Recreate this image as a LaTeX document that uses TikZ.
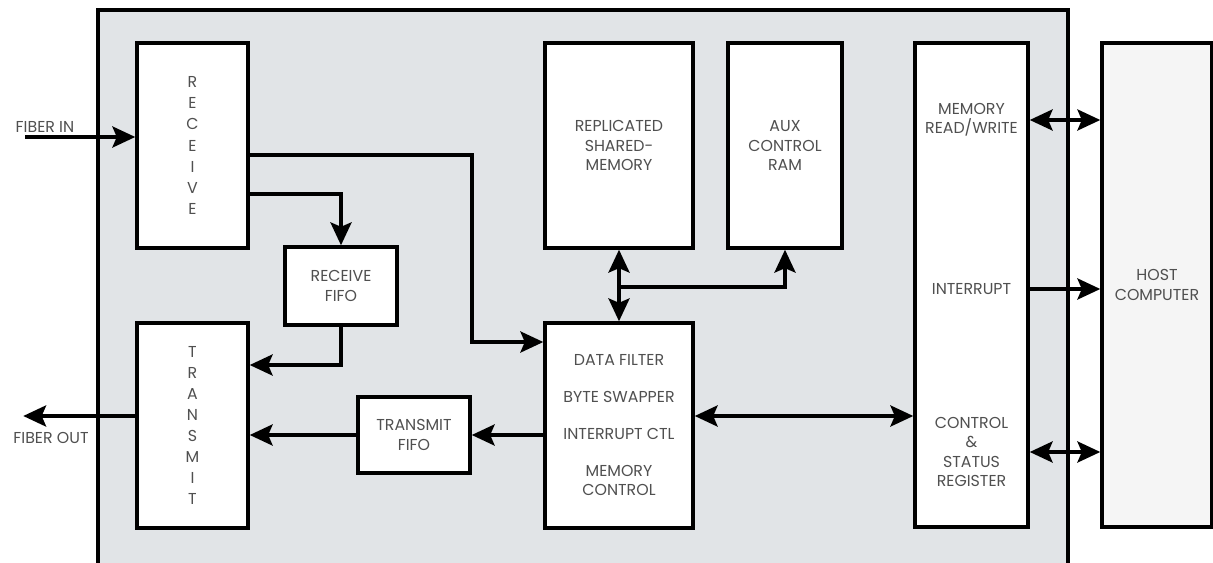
\documentclass[tikz,border=0pt]{standalone}
\usepackage{fontspec}
\setmainfont{Poppins}
\usetikzlibrary{arrows.meta, positioning, calc}
\definecolor{boardgray}{RGB}{225,228,231}
\definecolor{hostgray}{RGB}{245,245,245}
\definecolor{txtgray}{RGB}{80,80,80}

\begin{document}
\begin{tikzpicture}[
    x=0.02cm, y=-0.02cm,
    block/.style={rectangle, draw, line width=2pt, fill=white, inner sep=0pt, minimum width=2.22cm, minimum height=4.1cm, font=\fontsize{9}{11}\selectfont, text=txtgray, align=center},
    tall/.style={block, font=\fontsize{9}{12}\selectfont},
    label/.style={font=\fontsize{9}{11}\selectfont, text=txtgray, align=center},
    arr/.style={-{Stealth[length=13pt, width=12pt, inset=2.5pt]}, line width=2pt},
    dblarr/.style={{Stealth[length=13pt, width=12pt, inset=2.5pt]}-{Stealth[length=13pt, width=12pt, inset=2.5pt]}, line width=2pt}
]
\useasboundingbox (0,0) rectangle (1213,563);

% Board
\fill[boardgray] (98,10) rectangle (1068,600);
\draw[line width=2pt] (98,600) -- (98,10) -- (1068,10) -- (1068,600);

% Fiber side
\node[tall] (receive) at (192.5,145.5) {R\\E\\C\\E\\I\\V\\E};
\node[tall] (transmit) at (192.5,425.5) {T\\R\\A\\N\\S\\M\\I\\T};
\node[block, minimum width=2.24cm, minimum height=1.56cm] (rxfifo) at (341,286) {RECEIVE\\FIFO};
\node[block, minimum width=2.24cm, minimum height=1.52cm] (txfifo) at (414,435) {TRANSMIT\\FIFO};

% Memory
\node[block, minimum width=2.96cm] (shmem) at (619,145.5) {REPLICATED\\SHARED-\\MEMORY};
\node[block, minimum width=2.28cm] (auxram) at (785,145.5) {AUX\\CONTROL\\RAM};
\node[block, minimum width=2.96cm] (filter) at (619,425.5) {DATA FILTER\\[10pt]BYTE SWAPPER\\[10pt]INTERRUPT CTL\\[10pt]MEMORY\\CONTROL};

% Host interface
\node[block, minimum width=2.26cm, minimum height=9.68cm] (hostif) at (971.5,285) {};
\node[label] (mrw) at (971.5,120) {MEMORY\\READ/WRITE};
\node[label] (intr) at (971.5,289) {INTERRUPT};
\node[label] (csr) at (971.5,452) {CONTROL\\\&\\STATUS\\REGISTER};
\node[block, fill=hostgray, minimum width=2.2cm, minimum height=9.68cm] (host) at (1157,285) {HOST\\COMPUTER};

% Labels
\node[label] (fiberin) at (45,127) {FIBER IN};
\node[label] (fiberout) at (51,438) {FIBER OUT};
\coordinate (fin) at (25,137);
\coordinate (junc) at ($(shmem.south)!0.52!(filter.north)$);

% Connections
\draw[arr] (fin) -- (fin -| receive.west);
\draw[arr] ([yshift=0.19cm]transmit.west) -- ++(-112,0);
\draw[arr] ([yshift=-0.19cm]receive.east) -- ++(222,0) |- ([yshift=1.67cm]filter.west);
\draw[arr] ([yshift=-0.97cm]receive.east) -| (rxfifo.north);
\draw[arr] (rxfifo.south) |- ([yshift=1.21cm]transmit.east);
\draw[arr] (txfifo.west) -- (txfifo.west -| transmit.east);
\draw[arr] (filter.west |- txfifo) -- (txfifo.east);
\draw[dblarr] (shmem.south) -- (filter.north);
\draw[arr] (junc) -| (auxram.south);
\draw[dblarr] ([yshift=0.19cm]filter.east) -- ([yshift=0.19cm]filter.east -| hostif.west);
\draw[dblarr] (hostif.east |- mrw) -- (host.west |- mrw);
\draw[arr] (hostif.east |- intr) -- (host.west |- intr);
\draw[dblarr] (hostif.east |- csr) -- (host.west |- csr);
\end{tikzpicture}
\end{document}
